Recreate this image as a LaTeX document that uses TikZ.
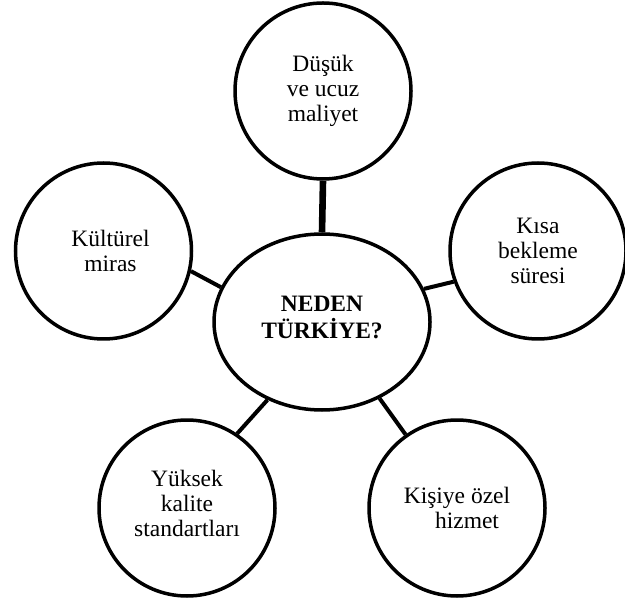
\documentclass[tikz,border=0pt]{standalone}
\usepackage{fontspec}
\setmainfont{Liberation Serif}
\usetikzlibrary{shapes.geometric}

\begin{document}
\begin{tikzpicture}[
  x=0.5pt, y=-0.5pt,
  font=\fontsize{11.75}{12.5}\selectfont,
  topic/.style={draw, circle, line width=1.75pt, minimum size=88pt,
                inner sep=0pt, align=center, fill=white},
  hub/.style={draw, ellipse, line width=1.75pt, minimum width=108pt,
              minimum height=88pt, inner sep=0pt, align=center, fill=white,
              text depth=5pt, font=\fontsize{11.75}{13.5}\selectfont\bfseries},
  link/.style={line width=2pt},
]
\useasboundingbox (0,0) rectangle (625,603);

% centre and the five reasons around it
\node[hub] (neden) at (322,322) {NEDEN\\TÜRKİYE?};
\node[topic] (maliyet) at (323,91) {Düşük\\ve ucuz\\maliyet};
\node[topic] (miras) at (103.5,251)
  {\hspace*{7pt}Kültürel\\\hspace*{7pt}miras};
\node[topic] (bekleme) at (538,251) {Kısa\\bekleme\\süresi};
\node[topic, text depth=5pt] (kalite) at (187,508)
  {Yüksek\\kalite\\standartları};
\node[topic] (hizmet) at (457,508) {Kişiye özel\\\hspace*{10pt}hizmet};

\draw[link, line width=3.3pt] (neden.90) -- (maliyet.-90);
\draw[link] (neden.161) -- (miras.-13);
\draw[link] (neden.18) -- (bekleme.-160);
\draw[link] (neden.235) -- (kalite.56);
\draw[link] (neden.-53) -- (hizmet.125);
\end{tikzpicture}
\end{document}
